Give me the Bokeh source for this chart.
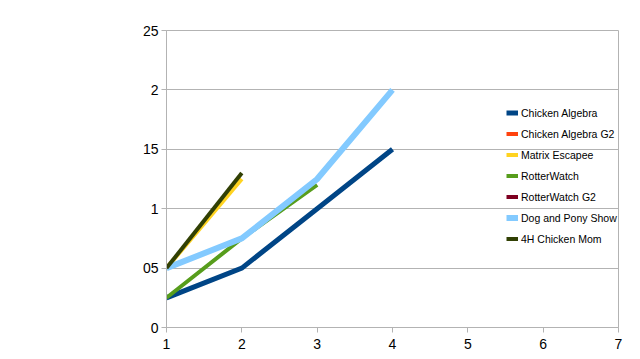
from bokeh.plotting import figure
from bokeh.models import (ColumnDataSource, Range1d, FixedTicker, Legend, LegendItem)
from bokeh.embed import file_html
from bokeh.resources import INLINE

# ---- data ----
series_names = ["Chicken Algebra", "Chicken Algebra G2", "Matrix Escapee", "RotterWatch",
                "RotterWatch G2", "Dog and Pony Show", "4H Chicken Mom"]
ca_x = [1, 2, 3, 4]
ca_y = [0.25, 0.5, 1.0, 1.5]
cag2_x = []
cag2_y = []
me_x = [1, 2]
me_y = [0.5, 1.25]
rw_x = [1, 2, 3]
rw_y = [0.25, 0.75, 1.2]
rwg2_x = []
rwg2_y = []
dps_x = [1, 2, 3, 4]
dps_y = [0.5, 0.75, 1.25, 2.0]
hcm_x = [1, 2]
hcm_y = [0.5, 1.3]

x_ticks = [1, 2, 3, 4, 5, 6, 7]
y_ticks = [0, 0.5, 1, 1.5, 2, 2.5]
y_tick_labels = ["0", "05", "1", "15", "2", "25"]

series_x = [ca_x, cag2_x, me_x, rw_x, rwg2_x, dps_x, hcm_x]
series_y = [ca_y, cag2_y, me_y, rw_y, rwg2_y, dps_y, hcm_y]
colors = ["#004586", "#ff420e", "#ffd320", "#579d1c", "#7e0021", "#83caff", "#314004"]
widths = [5, 4, 4, 4, 4, 6, 4]

p = figure(width=640, height=359, output_backend="svg", toolbar_location=None,
           x_range=Range1d(1, 7), y_range=Range1d(0, 2.5),
           min_border_left=166, min_border_right=22, min_border_top=30, min_border_bottom=32)
p.background_fill_color = "white"
p.border_fill_color = "white"
p.outline_line_color = "#b3b3b3"
p.outline_line_width = 1

grid_color = "#b3b3b3"
p.xgrid.grid_line_color = None
p.ygrid.grid_line_color = grid_color
p.ygrid.ticker = FixedTicker(ticks=y_ticks)

tick_font = "Liberation Sans"
for ax in (p.xaxis[0], p.yaxis[0]):
    ax.axis_line_color = grid_color
    ax.major_tick_line_color = grid_color
    ax.minor_tick_line_color = None
    ax.major_tick_in = 0
    ax.major_tick_out = 5
    ax.major_label_text_font = tick_font
    ax.major_label_text_font_size = "14px"
    ax.major_label_text_color = "black"

p.xaxis[0].ticker = FixedTicker(ticks=x_ticks)
p.xaxis[0].major_label_standoff = 6
p.yaxis[0].ticker = FixedTicker(ticks=y_ticks)
p.yaxis[0].major_label_standoff = 3
p.yaxis[0].major_label_overrides = {t: l for t, l in zip(y_ticks, y_tick_labels)}

nan = float("nan")
items = []
for name, xs, ys, c, w in zip(series_names, series_x, series_y, colors, widths):
    # series without points still need one (invisible) row so the legend swatch is drawn
    src = ColumnDataSource(dict(x=xs if xs else [nan], y=ys if ys else [nan]))
    r = p.line("x", "y", source=src, line_color=c, line_width=w, line_join="miter")
    items.append(LegendItem(label=name, renderers=[r]))

legend = Legend(items=items, location=(340, 78), orientation="vertical",
                background_fill_alpha=0, border_line_color=None,
                padding=0, margin=0, spacing=0,
                label_height=21, glyph_height=21, glyph_width=12, label_standoff=3,
                label_text_font="Liberation Sans",
                label_text_font_size="10.5px", label_text_color="black")
p.add_layout(legend, "center")

open("out.html", "w").write(file_html(p, INLINE))
